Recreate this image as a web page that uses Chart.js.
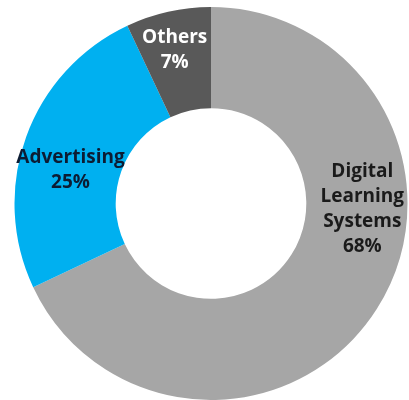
<!DOCTYPE html>
<html>
<head>
<meta charset="utf-8">
<script src="https://cdn.jsdelivr.net/npm/chart.js@4"></script>
<style>
  html, body { margin: 0; padding: 0; background: #fff; overflow: hidden; }
  #wrap { width: 409px; height: 400px; position: relative; }
</style>
</head>
<body>
<div id="wrap"><canvas id="c"></canvas></div>
<script>
const categories = ["Digital Learning Systems", "Advertising", "Others"];
const labelLines = [["Digital", "Learning", "Systems"], ["Advertising"], ["Others"]];
const shares = [68, 25, 7];

const sliceColors = ["#a6a6a6", "#00b0f0", "#595959"];
const textColors = ["#1a1a1a", "#0c1c33", "#ffffff"];
// label anchor (centre of text block) as fractions of outer radius from the centre
const labelAnchor = [[0.77, 0.03], [-0.715, -0.17], [-0.185, -0.78]];

const labelPlugin = {
  id: 'sliceLabels',
  afterDatasetsDraw(chart) {
    const meta = chart.getDatasetMeta(0);
    const ctx = chart.ctx;
    const lh = 25;
    ctx.save();
    ctx.font = "bold 19px 'Open Sans'";
    ctx.textAlign = 'center';
    ctx.textBaseline = 'middle';
    meta.data.forEach((arc, i) => {
      const R = arc.outerRadius;
      const cx = arc.x + labelAnchor[i][0] * R;
      const cy = arc.y + labelAnchor[i][1] * R;
      const lines = labelLines[i].concat([shares[i] + "%"]);
      const top = cy - (lines.length - 1) * lh / 2;
      ctx.fillStyle = textColors[i];
      lines.forEach((t, k) => ctx.fillText(t, cx, top + k * lh));
    });
    ctx.restore();
  }
};

new Chart(document.getElementById('c'), {
  type: 'doughnut',
  data: {
    labels: categories,
    datasets: [{
      data: shares,
      backgroundColor: sliceColors,
      borderWidth: 0,
      hoverOffset: 0
    }]
  },
  options: {
    responsive: true,
    maintainAspectRatio: false,
    animation: false,
    cutout: '48.5%',
    layout: { padding: { top: 7, left: 14, right: 1, bottom: 0 } },
    plugins: { legend: { display: false }, tooltip: { enabled: false } }
  },
  plugins: [labelPlugin]
});
</script>
</body>
</html>
